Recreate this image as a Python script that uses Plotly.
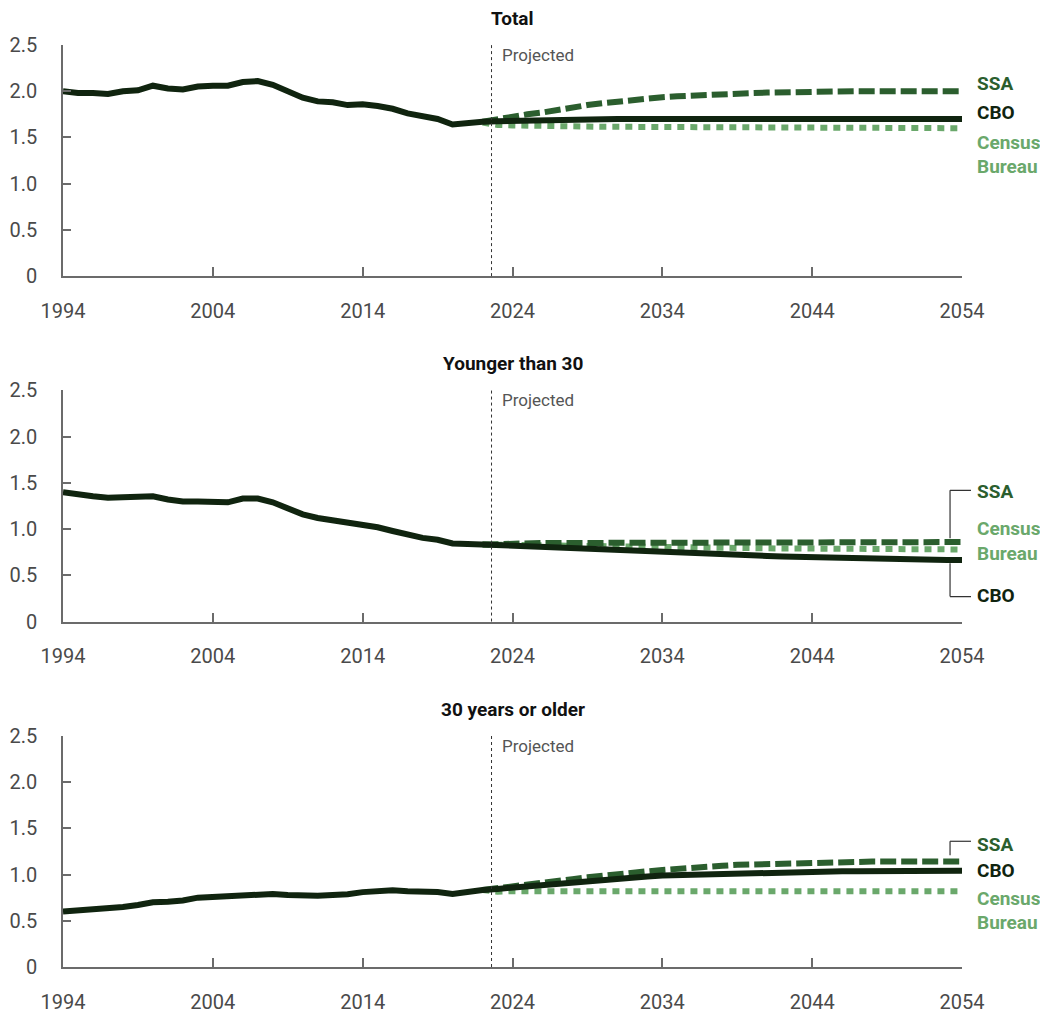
import plotly.graph_objects as go
from plotly.subplots import make_subplots

# Historical total fertility rates, 1994-2022
years_hist = list(range(1994, 2023))
total_hist = [2.00, 1.98, 1.98, 1.97, 2.00, 2.01, 2.06, 2.03, 2.02, 2.05, 2.06, 2.06, 2.10, 2.11,
              2.07, 2.00, 1.93, 1.89, 1.88, 1.85, 1.86, 1.84, 1.81, 1.76, 1.73, 1.70, 1.64, 1.66, 1.67]
young_hist = [1.40, 1.37, 1.355, 1.34, 1.35, 1.345, 1.355, 1.32, 1.30, 1.30, 1.295, 1.29, 1.33, 1.33,
              1.29, 1.22, 1.16, 1.12, 1.095, 1.065, 1.05, 1.02, 0.98, 0.935, 0.905, 0.885, 0.845, 0.84, 0.833]
old_hist = [0.60, 0.61, 0.62, 0.635, 0.65, 0.67, 0.70, 0.707, 0.72, 0.75, 0.76, 0.765, 0.78, 0.79,
            0.79, 0.78, 0.77, 0.77, 0.78, 0.786, 0.81, 0.82, 0.83, 0.82, 0.82, 0.81, 0.79, 0.815, 0.833]

# Projections, 2022-2054
years_proj = list(range(2022, 2055))
total_cbo = [1.67, 1.675, 1.68, 1.685, 1.69, 1.69, 1.695] + [1.70] * 26
total_ssa = [1.67, 1.70, 1.72, 1.75, 1.77, 1.80, 1.82, 1.85, 1.87, 1.89, 1.905, 1.92, 1.935, 1.945,
             1.955, 1.96, 1.97, 1.975, 1.98, 1.985, 1.99, 1.99, 1.995, 1.995] + [2.00] * 9
total_census = [1.66, 1.635, 1.63, 1.625, 1.62, 1.62, 1.62, 1.615, 1.615, 1.615, 1.615, 1.61, 1.61,
                1.61, 1.61, 1.61, 1.605, 1.605, 1.605, 1.605, 1.605, 1.605, 1.60, 1.60, 1.60, 1.60,
                1.60, 1.60, 1.60, 1.60, 1.60, 1.60, 1.60]

young_cbo = [0.833, 0.83, 0.82, 0.81, 0.80, 0.795, 0.79, 0.78, 0.775, 0.77, 0.76, 0.755, 0.75, 0.74,
             0.735, 0.73, 0.725, 0.72, 0.715, 0.71, 0.705, 0.70, 0.695, 0.69, 0.685, 0.68, 0.68, 0.675,
             0.67, 0.67, 0.665, 0.665, 0.665]
young_ssa = [0.833, 0.84, 0.845, 0.845, 0.85, 0.85, 0.85, 0.85, 0.855, 0.855, 0.855, 0.855, 0.855,
             0.855, 0.86, 0.86, 0.86, 0.86, 0.86, 0.86, 0.86, 0.86, 0.86, 0.86, 0.86, 0.86, 0.86,
             0.86, 0.86, 0.86, 0.86, 0.86, 0.86]
young_census = [0.833, 0.83, 0.83, 0.825, 0.825, 0.82, 0.82, 0.815, 0.815, 0.81, 0.81, 0.805, 0.805,
                0.80, 0.80, 0.80, 0.795, 0.795, 0.795, 0.79, 0.79, 0.79, 0.79, 0.785, 0.785, 0.785,
                0.785, 0.785, 0.78, 0.78, 0.78, 0.78, 0.78]

old_cbo = [0.833, 0.845, 0.86, 0.875, 0.89, 0.905, 0.92, 0.935, 0.945, 0.96, 0.97, 0.98, 0.99, 0.995,
           1.00, 1.005, 1.01, 1.015, 1.02, 1.02, 1.025, 1.03, 1.03, 1.03, 1.035, 1.035, 1.035, 1.035,
           1.035, 1.04, 1.04, 1.04, 1.04]
old_ssa = [0.833, 0.85, 0.87, 0.89, 0.91, 0.93, 0.95, 0.97, 0.99, 1.005, 1.02, 1.035, 1.05, 1.065,
           1.075, 1.085, 1.095, 1.105, 1.11, 1.12, 1.125, 1.13, 1.13, 1.135] + [1.14] * 9
old_census = [0.833, 0.815] + [0.82] * 31

x_ticks = [1994, 2004, 2014, 2024, 2034, 2044, 2054]
y_ticks = [0, 0.5, 1.0, 1.5, 2.0, 2.5]
y_ticktext = ['0', '0.5', '1.0', '1.5', '2.0', '2.5']
panel_titles = ['Total', 'Younger than 30', '30 years or older']

CBO_COL = '#10240f'
SSA_COL = '#2b5e2e'
CEN_COL = '#6aa86b'
AXIS_COL = '#6b6b6b'
FONT = 'Roboto, Liberation Sans, sans-serif'

panels = [
    (total_hist, total_cbo, total_ssa, total_census),
    (young_hist, young_cbo, young_ssa, young_census),
    (old_hist, old_cbo, old_ssa, old_census),
]

fig = make_subplots(rows=3, cols=1, vertical_spacing=0.124)

for i, (hist, cbo, ssa, cen) in enumerate(panels):
    r = i + 1
    fig.add_trace(go.Scatter(x=years_proj, y=cen, mode='lines', name='Census Bureau',
                             line=dict(color=CEN_COL, width=6, dash='7px,6px')), row=r, col=1)
    fig.add_trace(go.Scatter(x=years_proj, y=ssa, mode='lines', name='SSA',
                             line=dict(color=SSA_COL, width=6, dash='16px,5px')), row=r, col=1)
    fig.add_trace(go.Scatter(x=years_hist + years_proj[1:], y=hist + cbo[1:], mode='lines', name='CBO',
                             line=dict(color=CBO_COL, width=6)), row=r, col=1)

fig.update_xaxes(range=[1994, 2054], tickvals=x_ticks, ticks='inside', ticklen=9, tickwidth=1.5,
                 tickcolor=AXIS_COL, showline=True, linecolor=AXIS_COL, linewidth=1.5, showgrid=False,
                 zeroline=False, ticklabelstandoff=16, automargin=False,
                 tickfont=dict(family=FONT, size=20, color='#4a4a4a'))
fig.update_yaxes(range=[0, 2.5], tickvals=y_ticks, ticktext=y_ticktext, ticks='inside', ticklen=8,
                 tickwidth=1.5, tickcolor=AXIS_COL, showline=True, linecolor=AXIS_COL, linewidth=1.5,
                 showgrid=False, zeroline=False, ticklabelstandoff=20, automargin=False,
                 tickfont=dict(family=FONT, size=20, color='#4a4a4a'))

annotations = []
shapes = []
for i, title in enumerate(panel_titles):
    sfx = '' if i == 0 else str(i + 1)
    annotations.append(dict(text='<b>' + title + '</b>', xref='x' + sfx + ' domain', yref='y' + sfx + ' domain',
                            x=0.5, y=1.115, showarrow=False, xanchor='center', yanchor='middle',
                            font=dict(family=FONT, size=19, color='#111111')))
    annotations.append(dict(text='Projected', xref='x' + sfx, yref='y' + sfx + ' domain',
                            x=2023.15, y=0.957, showarrow=False, xanchor='left', yanchor='middle',
                            font=dict(family=FONT, size=17, color='#555555')))
    shapes.append(dict(type='line', xref='x' + sfx, yref='y' + sfx + ' domain', x0=2022.6, x1=2022.6,
                       y0=0, y1=1, line=dict(color='#333333', width=1, dash='dot')))

# Series labels at the right end of each panel: (axis suffix, text, y value, colour)
labels = [
    ('', 'SSA', 2.08, SSA_COL), ('', 'CBO', 1.765, CBO_COL),
    ('', 'Census', 1.44, CEN_COL), ('', 'Bureau', 1.19, CEN_COL),
    ('2', 'SSA', 1.41, SSA_COL), ('2', 'Census', 1.01, CEN_COL),
    ('2', 'Bureau', 0.74, CEN_COL), ('2', 'CBO', 0.28, CBO_COL),
    ('3', 'SSA', 1.32, SSA_COL), ('3', 'CBO', 1.04, CBO_COL),
    ('3', 'Census', 0.745, CEN_COL), ('3', 'Bureau', 0.485, CEN_COL),
]
for sfx, txt, yv, col in labels:
    annotations.append(dict(text='<b>' + txt + '</b>', xref='paper', yref='y' + sfx, x=1.0145, y=yv,
                            showarrow=False, xanchor='left', yanchor='middle',
                            font=dict(family=FONT, size=19, color=col)))

# Leader brackets
bx0, bx1 = 0.9867, 1.010
for sfx, ytop, ybot, at_top in [('2', 1.42, 0.90, True), ('2', 0.63, 0.27, False), ('3', 1.36, 1.21, True)]:
    shapes.append(dict(type='line', xref='paper', yref='y' + sfx, x0=bx0, x1=bx0, y0=ytop, y1=ybot,
                       line=dict(color='#333333', width=1.2)))
    yh = ytop if at_top else ybot
    shapes.append(dict(type='line', xref='paper', yref='y' + sfx, x0=bx0, x1=bx1, y0=yh, y1=yh,
                       line=dict(color='#333333', width=1.2)))

# the page body adds an 8px offset, so the figure is sized to fit inside the window
fig.update_layout(width=1040, height=1008, showlegend=False, plot_bgcolor='white', paper_bgcolor='white',
                  margin=dict(l=55, r=86, t=37, b=49), annotations=annotations, shapes=shapes,
                  font=dict(family=FONT))

fig.write_html('out.html')
